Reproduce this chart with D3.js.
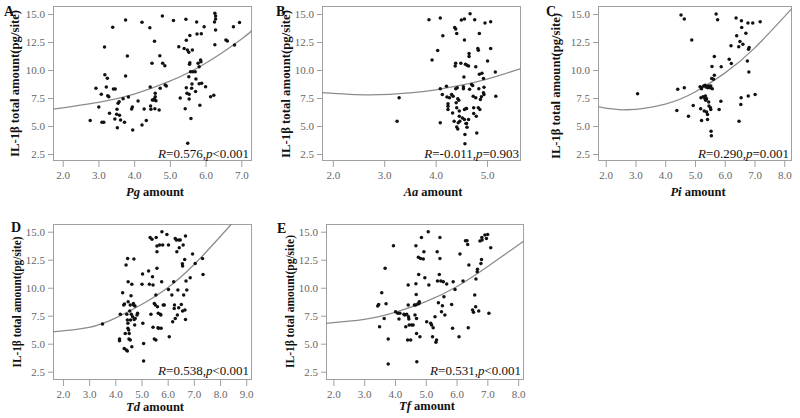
<!DOCTYPE html>
<html><head><meta charset="utf-8">
<script src="https://cdn.jsdelivr.net/npm/d3@7/dist/d3.min.js"></script>
<style>body{margin:0;background:#fff}svg{display:block}</style>
</head><body><svg id="c" width="800" height="418"></svg>
<script>
// ---------- data ----------
const yTicks = [2.5, 5.0, 7.5, 10.0, 12.5, 15.0];
const yTitle = "IL-1β total amount(pg/site)";

const pgPoints = [[2.77,5.48],[2.93,8.36],[3.01,6.70],[3.08,7.83],[3.10,5.33],[3.15,5.33],[3.17,12.05],[3.18,9.58],[3.22,8.48],[3.25,9.26],[3.26,7.71],[3.29,7.62],[3.31,6.13],[3.40,13.81],[3.42,8.30],[3.47,8.30],[3.46,5.63],[3.51,6.04],[3.52,6.49],[3.53,4.85],[3.55,7.02],[3.58,7.17],[3.59,5.95],[3.62,5.54],[3.69,7.44],[3.73,5.33],[3.76,14.46],[3.76,9.46],[3.81,11.25],[3.84,7.59],[3.93,6.52],[3.95,6.70],[3.96,4.64],[4.11,7.23],[4.22,14.26],[4.22,5.09],[4.28,6.52],[4.34,5.48],[4.44,13.78],[4.45,8.48],[4.46,6.79],[4.47,6.49],[4.50,10.60],[4.51,7.32],[4.55,7.32],[4.57,12.56],[4.57,7.44],[4.58,6.55],[4.59,7.92],[4.59,7.62],[4.61,7.26],[4.70,6.43],[4.72,11.28],[4.73,8.36],[4.79,14.82],[4.80,10.60],[4.86,10.39],[4.87,8.66],[4.90,8.57],[5.10,14.43],[5.25,12.08],[5.29,7.50],[5.40,11.93],[5.43,6.55],[5.45,14.52],[5.46,12.65],[5.46,8.42],[5.48,7.92],[5.49,11.79],[5.50,3.45],[5.53,11.58],[5.53,9.40],[5.54,7.83],[5.54,7.41],[5.55,10.51],[5.56,10.65],[5.56,13.07],[5.58,9.85],[5.59,5.68],[5.61,8.36],[5.62,8.75],[5.63,11.79],[5.64,9.85],[5.71,9.85],[5.73,9.20],[5.72,8.07],[5.75,14.29],[5.76,13.21],[5.79,10.60],[5.82,10.30],[5.82,8.78],[5.84,6.85],[5.86,10.89],[5.87,10.74],[5.88,13.24],[5.89,8.81],[5.96,13.87],[6.00,8.51],[6.14,7.62],[6.23,7.74],[6.25,14.29],[6.26,12.26],[6.26,15.06],[6.28,14.82],[6.28,14.55],[6.28,13.57],[6.57,12.68],[6.61,12.59],[6.78,13.87],[6.81,12.23],[6.95,14.23]];
const pgFit = [[1.73,6.5],[3.0,7.1],[4.0,7.85],[5.0,9.0],[6.0,10.6],[7.0,12.75],[7.30,13.55]];

const aaPoints = [[3.25,5.43],[3.29,7.52],[3.87,14.49],[3.93,10.90],[4.04,11.74],[4.09,14.64],[4.09,8.32],[4.09,5.28],[4.13,7.81],[4.14,13.05],[4.21,8.56],[4.22,7.58],[4.24,6.98],[4.24,6.77],[4.24,6.47],[4.27,7.52],[4.31,7.81],[4.33,6.17],[4.34,7.66],[4.36,5.43],[4.37,13.80],[4.38,10.36],[4.39,8.32],[4.39,13.65],[4.39,10.60],[4.40,7.07],[4.41,6.62],[4.41,4.92],[4.41,13.26],[4.42,8.41],[4.43,4.74],[4.43,7.43],[4.44,5.28],[4.45,7.31],[4.46,6.35],[4.46,5.87],[4.47,5.43],[4.49,10.60],[4.50,14.46],[4.52,5.72],[4.54,8.50],[4.54,8.32],[4.55,9.37],[4.56,5.57],[4.56,14.55],[4.56,12.67],[4.56,6.47],[4.57,4.23],[4.57,3.42],[4.58,10.51],[4.59,5.22],[4.59,6.56],[4.60,6.56],[4.60,5.22],[4.61,10.42],[4.61,4.89],[4.64,5.57],[4.64,10.36],[4.65,11.47],[4.65,11.20],[4.66,8.27],[4.67,15.03],[4.70,8.71],[4.72,8.62],[4.73,7.66],[4.74,6.62],[4.74,6.11],[4.76,14.49],[4.78,10.30],[4.78,7.52],[4.79,5.87],[4.80,4.38],[4.82,11.92],[4.83,11.77],[4.83,6.62],[4.84,8.32],[4.85,13.26],[4.85,9.61],[4.86,6.47],[4.87,7.37],[4.89,7.61],[4.90,9.70],[4.93,7.97],[4.93,9.25],[4.94,8.47],[4.94,7.82],[4.96,14.19],[5.01,10.81],[5.07,11.92],[5.07,14.31],[5.16,9.82],[5.17,7.66]];
const aaFit = [[1.79,7.98],[2.7,7.78],[3.5,7.95],[4.0,8.23],[4.5,8.64],[5.0,9.19],[5.66,10.12]];

const piPoints = [[3.07,7.88],[4.39,6.39],[4.42,8.27],[4.53,14.91],[4.64,14.55],[4.64,8.42],[4.78,5.88],[4.89,12.67],[4.94,6.84],[5.17,8.51],[5.19,6.54],[5.20,7.52],[5.21,8.42],[5.22,5.49],[5.22,8.33],[5.27,7.61],[5.29,8.57],[5.31,6.33],[5.33,7.46],[5.34,8.63],[5.35,7.67],[5.36,7.31],[5.37,8.48],[5.39,6.24],[5.39,7.43],[5.42,6.03],[5.42,5.58],[5.43,8.42],[5.45,8.57],[5.46,7.14],[5.47,6.78],[5.47,8.51],[5.51,8.42],[5.52,6.63],[5.53,8.57],[5.53,6.48],[5.54,4.53],[5.55,4.14],[5.56,9.23],[5.57,10.31],[5.58,8.33],[5.62,9.17],[5.65,11.20],[5.65,9.53],[5.71,15.00],[5.76,14.49],[5.81,6.48],[5.87,7.22],[5.88,10.28],[6.15,10.96],[6.22,10.57],[6.21,12.16],[6.38,14.64],[6.40,13.06],[6.47,12.07],[6.48,5.43],[6.51,12.55],[6.54,6.93],[6.55,7.52],[6.56,14.40],[6.57,13.80],[6.61,12.31],[6.71,13.27],[6.76,10.81],[6.78,14.19],[6.79,7.67],[6.80,11.86],[6.82,12.01],[6.81,9.83],[6.94,14.19],[7.02,7.82],[7.19,14.31]];
const piFit = [[1.74,6.73],[2.7,6.45],[4.0,6.96],[5.0,8.04],[6.0,9.72],[7.0,11.95],[8.26,15.5]];

const tdPoints = [[3.51,6.76],[4.16,5.42],[4.16,5.27],[4.19,7.62],[4.28,9.55],[4.32,8.45],[4.34,4.58],[4.35,8.54],[4.38,5.92],[4.41,12.02],[4.42,4.43],[4.44,7.62],[4.46,7.11],[4.46,4.35],[4.47,12.62],[4.48,6.82],[4.48,6.37],[4.49,10.54],[4.49,8.75],[4.51,6.22],[4.52,5.42],[4.53,5.92],[4.55,7.92],[4.57,8.45],[4.57,5.33],[4.58,7.11],[4.60,9.29],[4.61,7.62],[4.63,4.73],[4.63,10.30],[4.66,7.41],[4.69,8.60],[4.70,8.45],[4.71,12.56],[4.72,7.17],[4.74,6.67],[4.75,8.36],[4.76,7.26],[4.83,7.56],[4.85,7.71],[5.02,10.30],[5.04,11.22],[5.05,6.82],[5.08,5.03],[5.08,3.45],[5.27,11.49],[5.30,10.30],[5.33,14.49],[5.36,7.62],[5.40,14.32],[5.42,10.98],[5.44,10.24],[5.44,6.46],[5.49,8.60],[5.49,5.42],[5.53,8.45],[5.55,9.35],[5.55,5.33],[5.56,14.49],[5.59,13.21],[5.59,13.72],[5.59,11.73],[5.61,8.30],[5.63,6.43],[5.64,7.71],[5.65,6.37],[5.69,13.81],[5.72,7.62],[5.74,7.56],[5.75,6.37],[5.77,10.54],[5.78,15.00],[5.81,13.81],[5.83,8.45],[5.87,8.45],[5.97,14.76],[6.03,9.85],[6.03,13.81],[6.06,5.63],[6.16,9.35],[6.19,6.96],[6.23,10.54],[6.25,8.15],[6.26,8.45],[6.29,7.26],[6.29,14.40],[6.33,14.26],[6.35,13.21],[6.37,7.56],[6.39,9.79],[6.42,8.21],[6.42,14.26],[6.44,13.57],[6.48,14.26],[6.52,8.51],[6.56,12.14],[6.57,11.93],[6.57,7.92],[6.59,13.81],[6.61,9.35],[6.65,12.53],[6.66,8.00],[6.68,14.61],[6.68,7.17],[6.70,10.60],[6.73,9.79],[6.86,10.89],[6.95,13.01],[7.05,12.17],[7.33,12.62],[7.35,11.19]];
const tdFit = [[1.62,6.05],[3.0,6.45],[4.0,7.28],[5.0,8.5],[6.0,10.0],[7.0,12.05],[8.0,14.55],[8.5,15.85]];

const tfPoints = [[3.44,8.36],[3.47,8.51],[3.50,6.52],[3.57,9.55],[3.65,7.26],[3.68,11.73],[3.71,8.57],[3.78,5.42],[3.78,3.18],[3.95,13.75],[4.02,7.86],[4.09,7.71],[4.13,7.20],[4.16,7.71],[4.29,7.62],[4.32,7.56],[4.35,6.52],[4.38,7.62],[4.41,5.33],[4.43,10.24],[4.43,8.45],[4.44,7.41],[4.45,7.20],[4.46,6.67],[4.51,5.33],[4.54,6.67],[4.59,6.67],[4.63,8.45],[4.65,7.56],[4.67,8.45],[4.68,13.75],[4.68,10.36],[4.69,9.40],[4.70,5.92],[4.70,7.26],[4.71,3.39],[4.74,8.54],[4.76,12.71],[4.77,11.19],[4.78,8.60],[4.79,8.75],[4.81,5.63],[4.83,12.62],[4.86,14.49],[4.92,12.56],[4.94,13.21],[4.97,10.89],[5.03,6.96],[5.08,15.00],[5.10,10.24],[5.16,6.82],[5.19,6.67],[5.22,5.63],[5.24,6.43],[5.30,7.41],[5.33,5.12],[5.35,5.33],[5.37,13.21],[5.38,10.60],[5.41,8.66],[5.44,11.19],[5.46,14.49],[5.46,12.62],[5.49,10.60],[5.51,7.86],[5.54,8.39],[5.57,10.54],[5.59,9.20],[5.62,7.56],[5.68,10.33],[5.84,8.51],[5.87,6.37],[5.89,10.54],[5.95,9.85],[6.08,5.63],[6.11,13.01],[6.21,10.60],[6.29,14.20],[6.34,14.20],[6.36,13.87],[6.38,6.43],[6.40,12.02],[6.52,8.00],[6.55,7.80],[6.59,9.35],[6.62,8.30],[6.63,10.77],[6.67,11.43],[6.68,11.64],[6.72,7.92],[6.76,14.17],[6.79,12.17],[6.81,12.53],[6.82,14.49],[6.83,14.26],[6.92,14.70],[6.97,14.40],[7.01,14.76],[7.05,7.71],[7.11,13.57]];
const tfFit = [[1.76,6.82],[3.0,7.17],[4.0,7.8],[5.0,8.75],[6.0,10.09],[7.0,11.88],[8.19,14.17]];

const panelLetters = ["A","B","C","D","E"];
const bacteria = ["Pg","Aa","Pi","Td","Tf"];
const rValues = ["0.576","-0.011","0.290","0.538","0.531"];
const pValues = ["<0.001","=0.903","=0.001","<0.001","<0.001"];
const xTickSets = [[2,3,4,5,6,7],[2,3,4,5],[2,3,4,5,6,7,8],[2,3,4,5,6,7,8,9],[2,3,4,5,6,7,8]];
const pointSets = [pgPoints, aaPoints, piPoints, tdPoints, tfPoints];
const fitSets = [pgFit, aaFit, piFit, tdFit, tfFit];

// ---------- layout (positions only) ----------
const layout = [
  {box:[53,6,252,161],  xd:[1.728,7.30], yd:[1.875,15.714], letter:[4,16],   yt:[15,83.5,147],  xt:[155,196], rEnd:[249,157.5]},
  {box:[322,6,521,161], xd:[1.79,5.66],  yd:[1.875,15.714], letter:[276,16], yt:[286,84,148],   xt:[433,196], rEnd:[519,157.5]},
  {box:[598,6,792,161], xd:[1.74,8.26],  yd:[1.875,15.714], letter:[546,16], yt:[556,86,146],   xt:[698,196], rEnd:[789,157.5]},
  {box:[53,224,252,380],xd:[1.62,9.22],  yd:[1.76,15.69],   letter:[11,232], yt:[17,302,131],   xt:[155,411], rEnd:[249,374.5]},
  {box:[326,224,524,380],xd:[1.76,8.19], yd:[1.76,15.69],   letter:[277,233],yt:[290,301.5,133],xt:[427,410], rEnd:[521,374.5]}
];

const svg = d3.select("#c");
svg.append("rect").attr("width",800).attr("height",418).attr("fill","#fff");
const serif = "'Liberation Serif','Times New Roman',serif";
const frameCol = "#a0a0a0";

layout.forEach((L, i) => {
  const [x0,y0,x1,y1] = L.box;
  const x = d3.scaleLinear().domain(L.xd).range([x0,x1]);
  const y = d3.scaleLinear().domain(L.yd).range([y1,y0]);
  const g = svg.append("g");

  const clipId = "clip"+i;
  g.append("clipPath").attr("id",clipId).append("rect")
    .attr("x",x0).attr("y",y0).attr("width",x1-x0).attr("height",y1-y0);

  // axes
  const xa = g.append("g").attr("transform",`translate(0,${y1})`)
    .call(d3.axisBottom(x).tickValues(xTickSets[i]).tickFormat(d3.format(".1f")).tickSize(6).tickSizeOuter(0));
  const ya = g.append("g").attr("transform",`translate(${x0},0)`)
    .call(d3.axisLeft(y).tickValues(yTicks).tickFormat(d3.format(".1f")).tickSize(5).tickSizeOuter(0));
  [xa,ya].forEach(a=>{
    a.select(".domain").remove();
    a.selectAll("line").attr("stroke",frameCol).attr("stroke-width",1);
    a.selectAll("text").attr("fill","#666").style("font-family",serif).style("font-size","11px");
  });
  xa.selectAll("text").attr("dy",null).attr("y",18);
  ya.selectAll("text").attr("x",-8).attr("dy","0.35em");

  // frame
  g.append("rect").attr("x",x0+0.5).attr("y",y0+0.5).attr("width",x1-x0-1).attr("height",y1-y0-1)
    .attr("fill","none").attr("stroke",frameCol).attr("stroke-width",1);

  // fit curve
  g.append("path").datum(fitSets[i]).attr("clip-path",`url(#${clipId})`)
    .attr("d", d3.line().x(d=>x(d[0])).y(d=>y(d[1])).curve(d3.curveNatural))
    .attr("fill","none").attr("stroke","#8c8c8c").attr("stroke-width",1.3);

  // points
  g.selectAll("circle.pt").data(pointSets[i]).join("circle").attr("class","pt")
    .attr("cx",d=>x(d[0])).attr("cy",d=>y(d[1])).attr("r",1.75).attr("fill","#111");

  // letter
  g.append("text").attr("x",L.letter[0]).attr("y",L.letter[1]).text(panelLetters[i])
    .style("font-family",serif).style("font-size","14px").style("font-weight","bold").attr("fill","#111");

  // y title
  const fs = L.yt[2] > 140 ? 12.5 : 11.5;
  g.append("text").attr("transform",`translate(${L.yt[0]},${L.yt[1]}) rotate(-90)`)
    .attr("text-anchor","middle").attr("dominant-baseline","central")
    .attr("textLength",L.yt[2]).attr("lengthAdjust","spacingAndGlyphs")
    .style("font-family",serif).style("font-size",fs+"px").style("font-weight","bold").attr("fill","#111")
    .text(yTitle);

  // x title
  const xt = g.append("text").attr("x",L.xt[0]).attr("y",L.xt[1]).attr("text-anchor","middle")
    .style("font-family",serif).style("font-size","12.5px").style("font-weight","bold").attr("fill","#111");
  xt.append("tspan").style("font-style","italic").text(bacteria[i]);
  xt.append("tspan").text(" amount");

  // R annotation
  const rt = g.append("text").attr("x",L.rEnd[0]).attr("y",L.rEnd[1]).attr("text-anchor","end")
    .style("font-family",serif).style("font-size","13px").attr("fill","#111");
  rt.append("tspan").style("font-style","italic").text("R");
  rt.append("tspan").text("="+rValues[i]+",");
  rt.append("tspan").style("font-style","italic").text("p");
  rt.append("tspan").text(pValues[i]);
});
</script>
</body></html>
